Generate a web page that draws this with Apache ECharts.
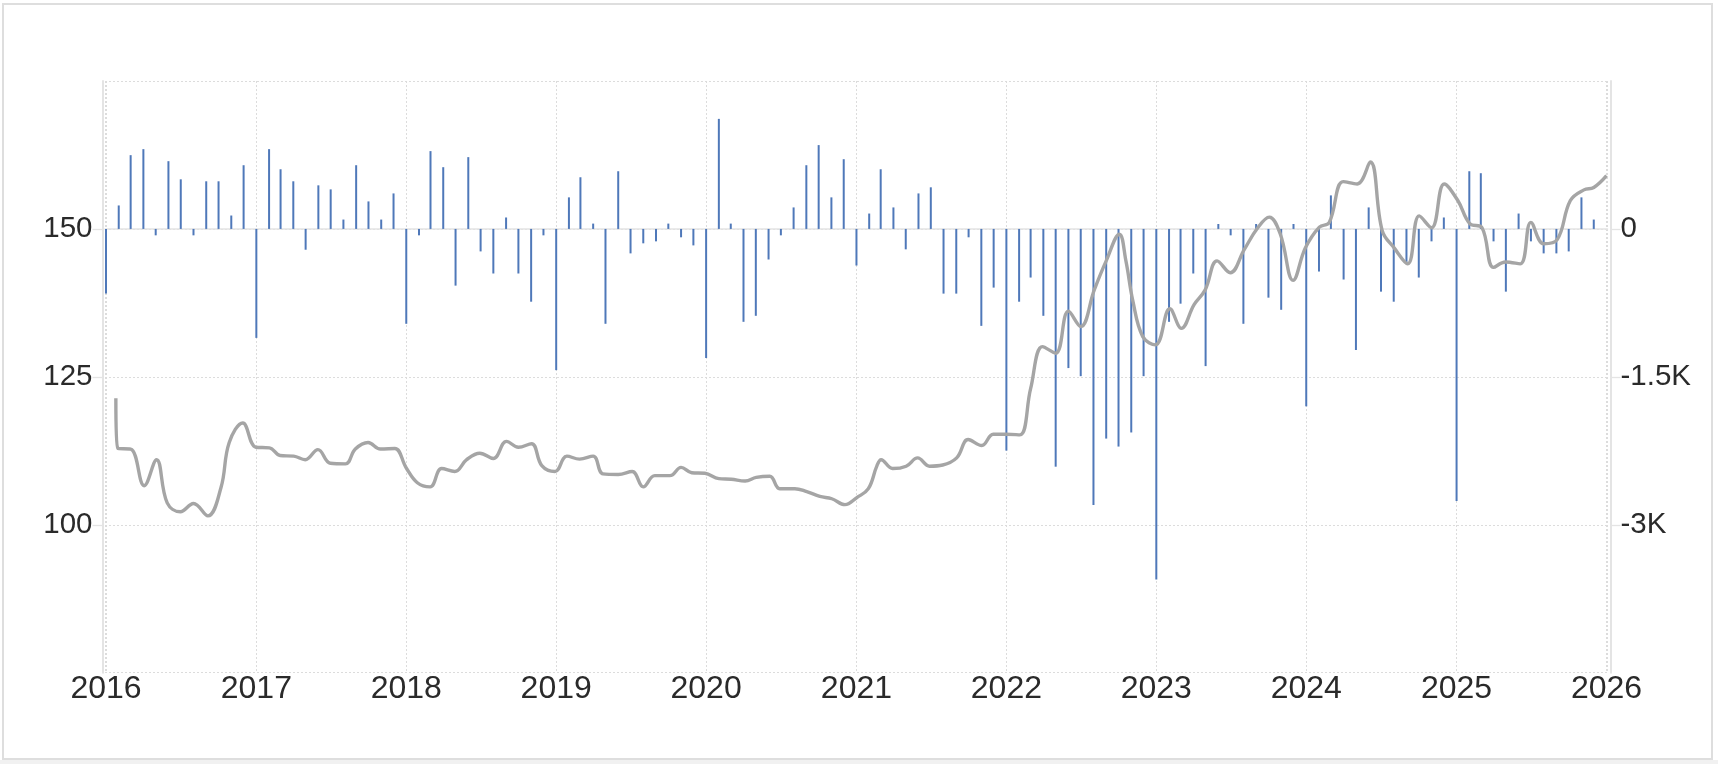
<!DOCTYPE html>
<html>
<head>
<meta charset="utf-8">
<script src="https://cdn.jsdelivr.net/npm/echarts@6/dist/echarts.min.js"></script>
<style>
  html, body { margin: 0; padding: 0; background: #ffffff; }
  #chart { width: 1718px; height: 764px; }
</style>
</head>
<body>
<div id="chart"></div>
<script>
// ---- Data ----
// Monthly bars (right axis), Jan 2016 .. Dec 2025
const barStartYear = 2016;
const bars2016 = [-656, 238, 748, 809, -65, 687, 503, -65, 483, 483, 136, 646];
const bars2017 = [-1105, 809, 605, 483, -211, 442, 401, 95, 646, 279, 95, 360];
const bars2018 = [-962, -65, 789, 626, -575, 728, -228, -452, 116, -452, -738, -65];
const bars2019 = [-1432, 320, 524, 54, -962, 585, -248, -146, -126, 54, -85, -167];
const bars2020 = [-1309, 1116, 54, -942, -881, -310, -65, 218, 646, 850, 320, 707];
const bars2021 = [-371, 156, 605, 218, -207, 360, 422, -656, -656, -85, -983, -595];
const bars2022 = [-2248, -738, -493, -881, -2411, -1411, -1493, -2799, -2126, -2207, -2064, -1493];
const bars2023 = [-3554, -942, -758, -452, -1391, 50, -65, -962, 50, -697, -820, 50];
const bars2024 = [-1799, -432, 340, -513, -1228, 218, -636, -738, -350, -493, -126, 116];
const bars2025 = [-2758, 585, 565, -126, -636, 156, -126, -248, -248, -228, 320, 95];
const barYears = [bars2016, bars2017, bars2018, bars2019, bars2020, bars2021, bars2022, bars2023, bars2024, bars2025];

// Line (left axis)
const lineDates = [
  '2016-01-25','2016-01-30','2016-03-01','2016-04-03','2016-05-03','2016-05-29','2016-06-30','2016-08-01','2016-09-05','2016-10-07','2016-10-27','2016-11-29','2016-12-31',
  '2017-02-02','2017-02-28','2017-04-02','2017-04-30','2017-05-31','2017-06-30','2017-08-06','2017-08-30','2017-09-30','2017-10-30','2017-12-04',
  '2018-01-01','2018-01-28','2018-02-28','2018-03-28','2018-04-29','2018-05-28','2018-06-29','2018-08-01','2018-09-02','2018-10-01','2018-11-02','2018-11-27','2018-12-29',
  '2019-01-27','2019-02-27','2019-04-01','2019-04-25','2019-06-01','2019-07-05','2019-08-01','2019-08-29','2019-10-05','2019-11-01','2019-11-27','2019-12-29',
  '2020-02-01','2020-03-02','2020-04-05','2020-05-02','2020-06-04','2020-06-28','2020-08-04','2020-09-02','2020-10-04','2020-11-02','2020-12-04',
  '2021-01-02','2021-01-30','2021-02-20','2021-03-02','2021-03-30','2021-05-02','2021-05-30','2021-06-28','2021-07-30','2021-09-02','2021-09-30','2021-11-02','2021-11-30','2022-01-01',
  '2022-02-03','2022-03-01','2022-03-30','2022-05-01','2022-06-01','2022-07-01','2022-08-03','2022-09-01','2022-10-03','2022-10-19','2022-11-05','2022-11-29','2022-12-30',
  '2023-02-03','2023-03-03','2023-04-03','2023-04-30','2023-05-29','2023-06-30','2023-08-03','2023-09-05','2023-10-03','2023-10-30','2023-11-30','2023-12-30',
  '2024-02-02','2024-02-26','2024-03-31','2024-05-04','2024-06-05','2024-07-04','2024-08-02','2024-09-04','2024-10-02','2024-11-01','2024-12-02',
  '2025-01-04','2025-02-02','2025-03-04','2025-04-01','2025-04-30','2025-06-05','2025-07-01','2025-08-01','2025-09-03','2025-10-05','2025-11-07','2025-12-01','2026-01-01'
];
const lineValues = [
  121.4,112.9,112.8,106.6,111.0,103.7,102.2,103.6,101.5,106.3,113.9,117.2,113.1,
  113.0,111.7,111.6,111.0,112.7,110.4,110.3,112.8,113.9,112.8,112.9,
  109.6,107.1,106.4,109.5,109.0,111.0,112.1,111.2,114.1,113.1,113.7,110.0,109.0,
  111.6,111.1,111.6,108.6,108.5,109.0,106.4,108.3,108.3,109.7,108.8,108.7,
  107.8,107.7,107.4,108.0,108.2,106.1,106.1,105.6,104.8,104.4,103.4,
  104.6,106.1,110.0,111.0,109.5,109.9,111.3,109.9,110.1,111.3,114.4,113.4,115.3,115.3,
  115.2,123.0,130.1,129.0,136.1,133.5,139.7,144.6,149.1,144.6,137.8,131.8,130.4,
  136.5,133.2,137.2,139.7,144.6,142.6,146.5,150.2,152.0,149.1,141.3,146.8,
  150.3,151.1,158.0,157.6,161.3,149.7,146.8,144.1,152.2,150.2,157.6,
  154.8,150.9,150.2,143.5,144.4,144.1,151.1,147.5,148.2,154.8,156.6,157.0,159.0
];

// Axis settings
const leftMin = 75, leftMax = 175, leftStep = 25;
const rightMin = -4500, rightMax = 1500, rightStep = 1500;
const xMin = '2016-01-01', xMax = '2026-01-01';

// ---- Build series data ----
const barData = [];
barYears.forEach((vals, yi) => {
  vals.forEach((v, mi) => {
    const mm = String(mi + 1).padStart(2, '0');
    barData.push([(barStartYear + yi) + '-' + mm + '-01', v]);
  });
});
const lineData = lineDates.map((d, i) => [d, lineValues[i]]);

const YEAR = 365 * 24 * 3600 * 1000;
const gridLine = { show: true, lineStyle: { color: '#dcdcdc', type: [2, 2], width: 1 } };
const axisGrey = '#e4e4e4';
const textColor = '#2a2a2a';
const fontFamily = '"Liberation Sans", Arial, Helvetica, sans-serif';

const chart = echarts.init(document.getElementById('chart'), null, { renderer: 'canvas' });
chart.setOption({
  backgroundColor: '#ffffff',
  animation: false,
  graphic: [
    { type: 'rect', silent: true, z: -10,
      shape: { x: 3, y: 4, width: 1709, height: 755 },
      style: { fill: 'none', stroke: '#dedede', lineWidth: 2 } },
    { type: 'rect', silent: true, z: -10,
      shape: { x: 0, y: 760, width: 1718, height: 4 },
      style: { fill: '#f1f1f1' } }
  ],
  grid: { left: 105, right: 110.5, top: 81, bottom: 91.3, outerBoundsMode: 'none', containLabel: false },
  xAxis: {
    type: 'time',
    min: xMin,
    max: xMax,
    minInterval: YEAR,
    maxInterval: YEAR + 24 * 3600 * 1000,
    splitNumber: 10,
    axisLine: { show: true, lineStyle: { color: axisGrey, width: 1.5 } },
    axisTick: { show: false },
    splitLine: gridLine,
    axisLabel: {
      color: textColor,
      fontSize: 32,
      fontFamily: fontFamily,
      margin: 0,
      hideOverlap: false,
      formatter: function (v) { return String(new Date(v).getFullYear()); }
    }
  },
  yAxis: [
    {
      type: 'value',
      position: 'left',
      offset: 2.5,
      min: leftMin, max: leftMax, interval: leftStep,
      axisLine: { show: true, lineStyle: { color: axisGrey, width: 2 } },
      axisTick: { show: true, length: 18, lineStyle: { color: axisGrey, width: 1.3 } },
      splitLine: gridLine,
      axisLabel: {
        color: textColor, fontSize: 29.5, fontFamily: fontFamily,
        margin: 10, showMinLabel: false, showMaxLabel: false,
        backgroundColor: '#ffffff', padding: [0, 0, 10, 0]
      }
    },
    {
      type: 'value',
      position: 'right',
      offset: 3.5,
      min: rightMin, max: rightMax, interval: rightStep,
      axisLine: { show: true, lineStyle: { color: axisGrey, width: 2 } },
      axisTick: { show: true, length: 18, lineStyle: { color: axisGrey, width: 1.3 } },
      splitLine: { show: false },
      axisLabel: {
        color: textColor, fontSize: 29.5, fontFamily: fontFamily,
        margin: 9.5, showMinLabel: false, showMaxLabel: false,
        backgroundColor: '#ffffff', padding: [0, 0, 10, 0],
        formatter: function (v) { return v === 0 ? '0' : (v / 1000) + 'K'; }
      }
    }
  ],
  series: [
    {
      type: 'bar',
      yAxisIndex: 1,
      data: barData,
      barWidth: 2,
      itemStyle: { color: '#4f78b9' },
      z: 2
    },
    {
      type: 'line',
      yAxisIndex: 0,
      data: lineData,
      smooth: 0.4,
      showSymbol: false,
      symbol: 'none',
      lineStyle: { color: '#a5a5a5', width: 3.4 },
      z: 3
    }
  ]
});
</script>
</body>
</html>
